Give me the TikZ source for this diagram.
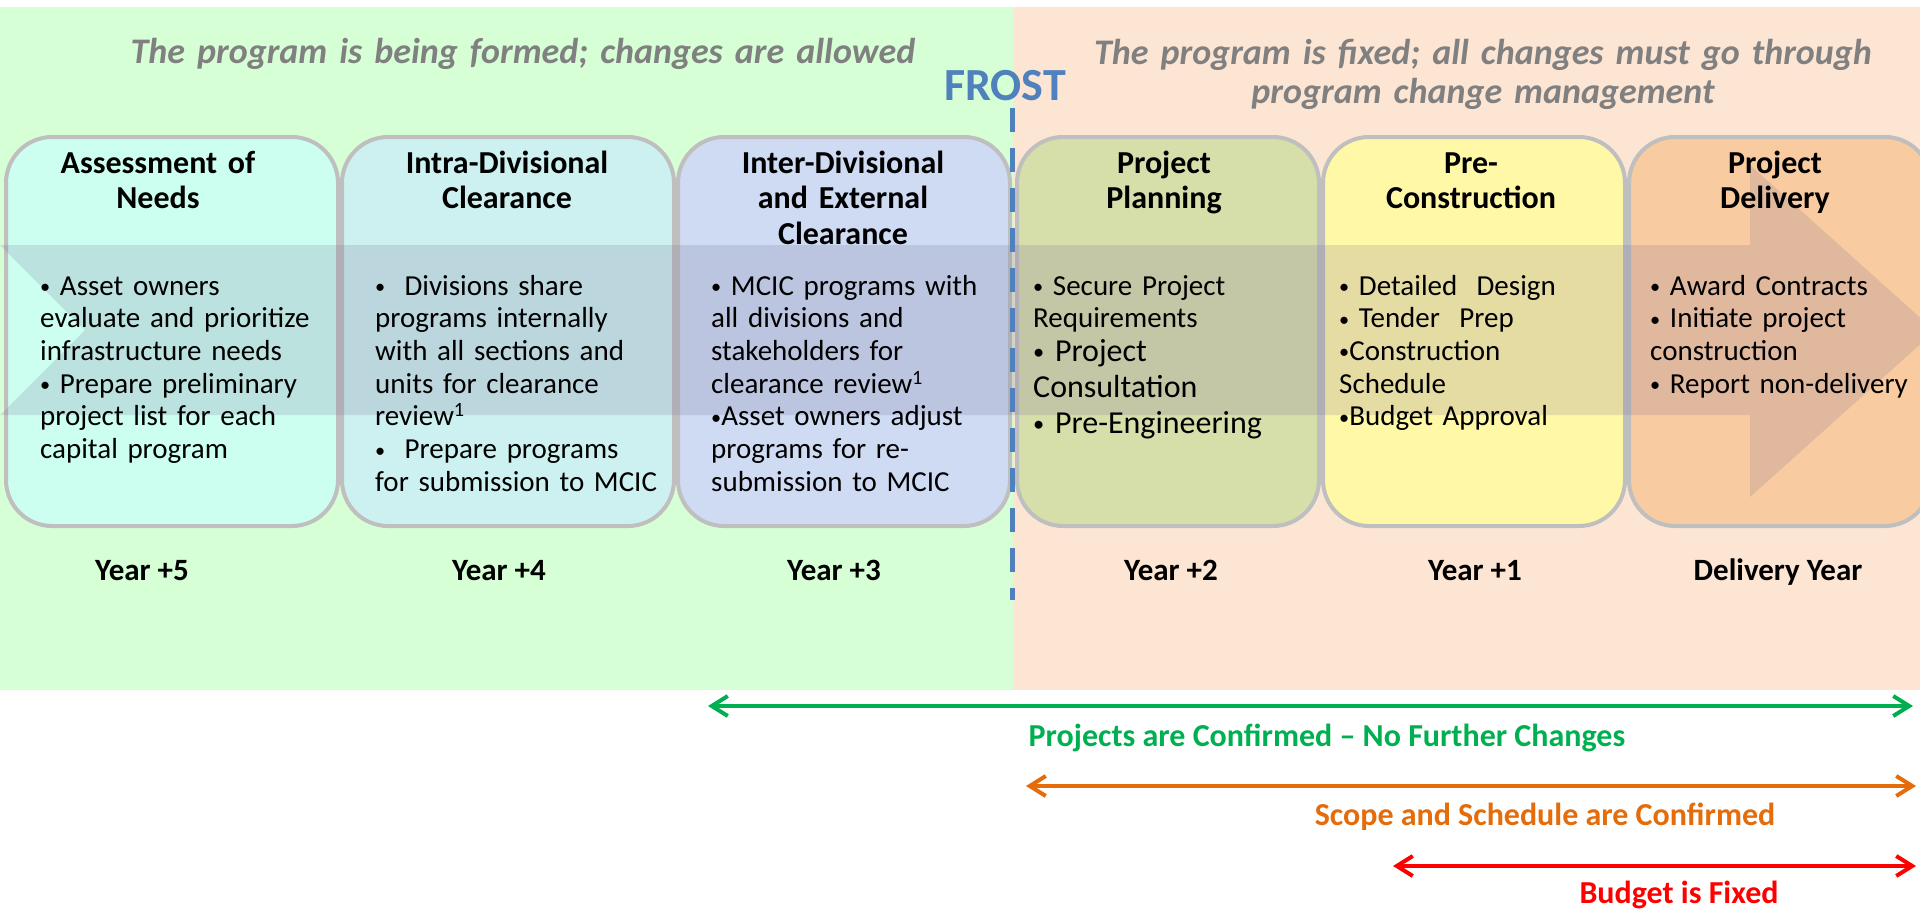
\documentclass[tikz,border=0pt]{standalone}
\usepackage{fontspec}
\setmainfont{Carlito}
\usepackage{tikz}
\usetikzlibrary{arrows.meta, positioning}

\definecolor{formgreen}{RGB}{214,255,214}
\definecolor{fixpeach}{RGB}{253,229,212}
\definecolor{stageline}{RGB}{191,191,191}
\definecolor{needsfill}{RGB}{204,255,240}
\definecolor{intrafill}{RGB}{205,241,240}
\definecolor{interfill}{RGB}{206,219,243}
\definecolor{planfill}{RGB}{214,222,170}
\definecolor{preconfill}{RGB}{255,248,166}
\definecolor{deliverfill}{RGB}{249,203,160}
\definecolor{bandgray}{RGB}{120,110,150}
\definecolor{notegray}{RGB}{128,128,128}
\definecolor{frostblue}{RGB}{79,129,189}
\definecolor{spangreen}{RGB}{0,176,80}
\definecolor{spanorange}{RGB}{228,108,10}
\definecolor{spanred}{RGB}{255,0,0}

\newcommand{\bul}{\raisebox{1.5pt}{\scalebox{0.7}{•}}}

\tikzstyle{stage} = [rectangle, rounded corners=46pt, minimum height=389pt, draw=stageline, line width=4pt]
\tikzstyle{wide} = [minimum width=332pt]
\tikzstyle{narrow} = [minimum width=302pt]
\tikzstyle{band} = [fill=bandgray, fill opacity=0.2]
\tikzstyle{head} = [text width=320pt, align=center, anchor=base, inner sep=0pt, font=\fontsize{32}{35.5}\selectfont\bfseries]
\tikzstyle{body} = [text width=300pt, align=left, anchor=base west, inner sep=0pt, font=\fontsize{29}{32.7}\selectfont]
\tikzstyle{bigbody} = [body, font=\fontsize{32}{36}\selectfont]
\tikzstyle{year} = [anchor=base, inner sep=0pt, font=\fontsize{31}{36}\selectfont\bfseries]
\tikzstyle{note} = [text width=900pt, align=center, anchor=base, inner sep=0pt, text=notegray, font=\fontsize{36}{39.5}\selectfont\bfseries\itshape]
\tikzstyle{frostline} = [draw=frostblue, line width=5pt, dash pattern=on 24pt off 16pt]
\tikzstyle{span} = [line width=4pt, <->, >={Straight Barb[length=16pt, width=20pt]}]
\tikzstyle{spanlabel} = [anchor=base, inner sep=0pt, font=\fontsize{32}{36}\selectfont\bfseries]

\begin{document}
\begin{tikzpicture}[x=1pt, y=-1pt]
\useasboundingbox (0,0) rectangle (1920,910);
% two phases
\fill[formgreen] (0,7) rectangle (1013,690);
\fill[fixpeach] (1013,7) rectangle (1920,690);

% stages
\node (needs) [stage, wide, fill=needsfill] at (172,331.5) {};
\node (intra) [stage, wide, fill=intrafill, right=0pt of needs] {};
\node (inter) [stage, wide, fill=interfill, right=0pt of intra] {};
\node (plan) [stage, narrow, fill=planfill, right=3pt of inter] {};
\node (precon) [stage, narrow, fill=preconfill, right=0pt of plan] {};
\node (deliver) [stage, narrow, fill=deliverfill, right=0pt of precon] {};

% big arrow behind the text
\fill[band] (0,245) -- (1750,245) -- (1750,165) -- (1935,331) -- (1750,497) -- (1750,415) -- (0,415) -- (85,330) -- cycle;

% freeze line
\node (frost) [anchor=base, inner sep=0pt, text=frostblue, font=\fontsize{46}{50}\selectfont\bfseries] at (1005,100) {FROST};
\coordinate (frost-top) at (1012,108);
\coordinate (frost-bot) at (1012,600);
\draw [frostline] (frost-top) -- (frost-bot);

\node (note-l) [note] at (523,63) {The program is being formed; changes are allowed};
\node (note-r) [note] at (1483,64) {The program is fixed; all changes must go through\\program change management};

% stage titles
\node (needs-t) [head] at (158,173) {Assessment of\\Needs};
\node (intra-t) [head] at (507,173) {Intra-Divisional\\Clearance};
\node (inter-t) [head] at (843,173) {Inter-Divisional\\and External\\Clearance};
\node (plan-t) [head] at (1164,173) {Project\\Planning};
\node (precon-t) [head] at (1471,173) {Pre-\\Construction};
\node (deliver-t) [head] at (1775,173) {Project\\Delivery};

% stage texts
\node (needs-b) [body] at (40,295) {\bul{} Asset owners\\evaluate and prioritize\\infrastructure needs\\\bul{} Prepare preliminary\\project list for each\\capital program};
\node (intra-b) [body] at (375,295) {\bul\ \ Divisions share\\programs internally\\with all sections and\\units for clearance\\review\textsuperscript{1}\\\bul\ \ Prepare programs\\for submission to MCIC};
\node (inter-b) [body] at (711,295) {\bul{} MCIC programs with\\all divisions and\\stakeholders for\\clearance review\textsuperscript{1}\\\bul Asset owners adjust\\programs for re-\\submission to MCIC};
\node (plan-b) [body] at (1033,295) {\bul{} Secure Project\\Requirements};
\node (plan-c) [bigbody] at (1033,361) {\bul{} Project\\Consultation\\\bul{} Pre-Engineering};
\node (precon-b) [body] at (1339,295) {\bul{} Detailed~ Design\\\bul{} Tender~ Prep\\\bul Construction\\Schedule\\\bul Budget Approval};
\node (deliver-b) [body] at (1650,295) {\bul{} Award Contracts\\\bul{} Initiate project\\construction\\\bul{} Report non-delivery};

% years
\node (y5) [year] at (142,580) {Year +5};
\node (y4) [year] at (499,580) {Year +4};
\node (y3) [year] at (834,580) {Year +3};
\node (y2) [year] at (1171,580) {Year +2};
\node (y1) [year] at (1475,580) {Year +1};
\node (y0) [year] at (1778,580) {Delivery Year};

% what is locked
\coordinate (conf-l) at (708,706);
\coordinate (conf-r) at (1913,706);
\coordinate (scope-l) at (1026,786);
\coordinate (scope-r) at (1916,786);
\coordinate (budget-l) at (1393,866);
\coordinate (budget-r) at (1916,866);
\draw [span, spangreen] (conf-l) -- (conf-r);
\draw [span, spanorange] (scope-l) -- (scope-r);
\draw [span, spanred] (budget-l) -- (budget-r);
\node (conf) [spanlabel, text=spangreen] at (1327,746) {Projects are Confirmed – No Further Changes};
\node (scope) [spanlabel, text=spanorange] at (1545,825) {Scope and Schedule are Confirmed};
\node (budget) [spanlabel, text=spanred] at (1679,903) {Budget is Fixed};
\end{tikzpicture}
\end{document}
